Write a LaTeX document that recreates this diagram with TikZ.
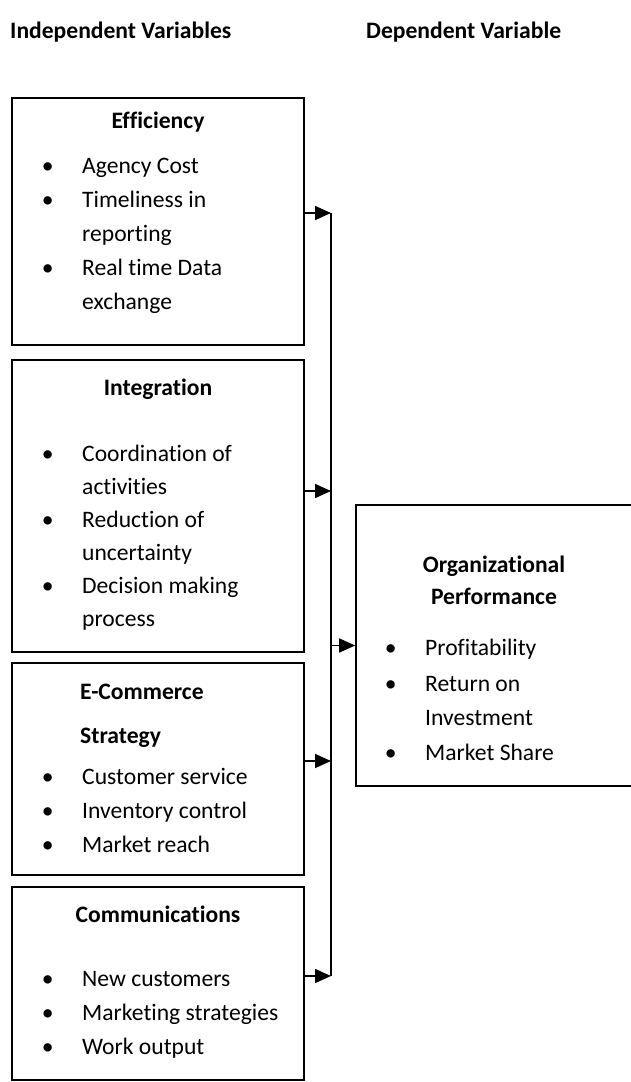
\documentclass[tikz,border=0pt]{standalone}
\usepackage{fontspec}
\setmainfont{Carlito}[Ligatures={NoCommon, NoContextual}]
\usetikzlibrary{arrows.meta, positioning}

\newcommand{\bul}{\llap{\textbullet\hspace{28.5pt}}}

\begin{document}
\begin{tikzpicture}[
            x=1pt, y=-1pt,
            box/.style={draw, line width=1.6pt, inner sep=0pt},
            txt/.style={font=\fontsize{23.6}{34}\selectfont, inner sep=0pt, anchor=base west},
            bold/.style={font=\fontsize{23.6}{34}\selectfont\bfseries, inner sep=0pt, anchor=base},
            feed/.style={line width=1.6pt, -{Triangle[length=16pt, width=14pt]}}
        ]
        \useasboundingbox (0, 0) rectangle (631, 1082);

        % column heads
        \node (indep) at (10, 38)[bold, anchor=base west] {Independent Variables};
        \node (dep) at (366, 38)[bold, anchor=base west] {Dependent Variable};

        % the four boxes on the left
        \node (eff) at (158, 221.5)[box, minimum width=292pt, minimum height=247pt] {};
        \node (integ) at (158, 506)[box, minimum width=292pt, minimum height=292pt] {};
        \node (ecom) at (158, 769)[box, minimum width=292pt, minimum height=212pt] {};
        \node (comm) at (158, 983.5)[box, minimum width=292pt, minimum height=193pt] {};
        \node (perf) at (495, 645.5)[box, minimum width=278pt, minimum height=281pt] {};

        \node (effT) at (158, 128)[bold] {Efficiency};
        \node (eff1) at (82, 173)[txt] {\bul Agency Cost};
        \node (eff2) at (82, 207)[txt] {\bul Timeliness in};
        \node (eff3) at (82, 241)[txt] {reporting};
        \node (eff4) at (82, 275)[txt] {\bul Real time Data};
        \node (eff5) at (82, 309)[txt] {exchange};

        \node (integT) at (158, 395)[bold] {Integration};
        \node (integ1) at (82, 461)[txt] {\bul Coordination of};
        \node (integ2) at (82, 494)[txt] {activities};
        \node (integ3) at (82, 527)[txt] {\bul Reduction of};
        \node (integ4) at (82, 560)[txt] {uncertainty};
        \node (integ5) at (82, 593)[txt] {\bul Decision making};
        \node (integ6) at (82, 626)[txt] {process};

        \node (ecomT) at (80, 699)[bold, anchor=base west] {E-Commerce};
        \node (ecomS) at (80, 743)[bold, anchor=base west] {Strategy};
        \node (ecom1) at (82, 784)[txt] {\bul Customer service};
        \node (ecom2) at (82, 818)[txt] {\bul Inventory control};
        \node (ecom3) at (82, 852)[txt] {\bul Market reach};

        \node (commT) at (158, 922)[bold] {Communications};
        \node (comm1) at (82, 986)[txt] {\bul New customers};
        \node (comm2) at (82, 1020)[txt] {\bul Marketing strategies};
        \node (comm3) at (82, 1054)[txt] {\bul Work output};

        \node (perfT) at (494, 572)[bold] {Organizational};
        \node (perfP) at (494, 604)[bold] {Performance};
        \node (perf1) at (425, 655)[txt] {\bul Profitability};
        \node (perf2) at (425, 691)[txt] {\bul Return on};
        \node (perf3) at (425, 725)[txt] {Investment};
        \node (perf4) at (425, 760)[txt] {\bul Market Share};

        % collector line and arrows
        \coordinate (j1) at (331, 213);
        \coordinate (j2) at (331, 491);
        \coordinate (j3) at (331, 761);
        \coordinate (j4) at (331, 976);
        \draw[line width=1.6pt] (j1) -- (j4);
        \draw[feed] (eff.east |- j1) -- (j1);
        \draw[feed] (integ.east |- j2) -- (j2);
        \draw[feed] (ecom.east |- j3) -- (j3);
        \draw[feed] (comm.east |- j4) -- (j4);
        \draw[feed] (perf.west -| j1) -- (perf.west);
    \end{tikzpicture}
\end{document}
